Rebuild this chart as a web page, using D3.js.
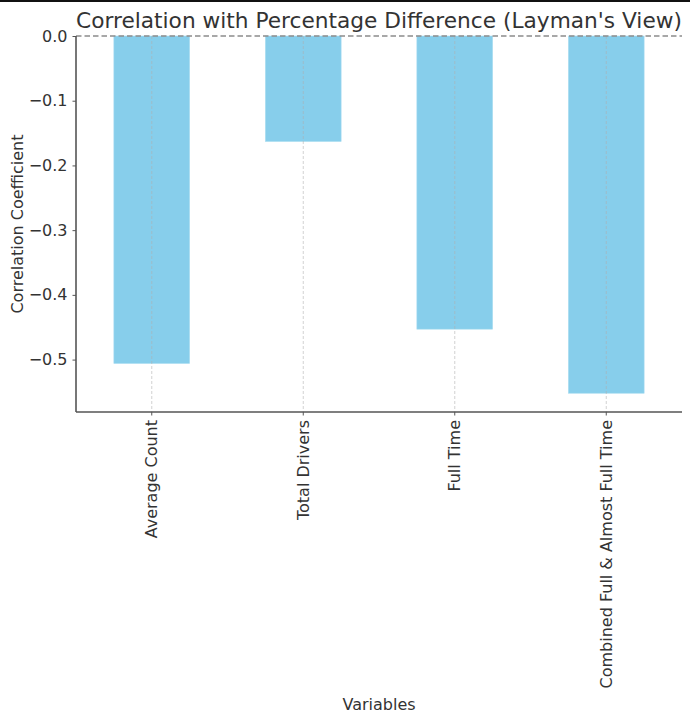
<!DOCTYPE html>
<html><head><meta charset="utf-8">
<script src="https://cdn.jsdelivr.net/npm/d3@7"></script>
<style>body{margin:0;background:#fff;} text{font-family:"DejaVu Sans",sans-serif;}</style>
</head><body>
<script>
const categories = ["Average Count", "Total Drivers", "Full Time", "Combined Full & Almost Full Time"];
const values = [-0.506, -0.163, -0.453, -0.552];
const yTicks = [0.0, -0.1, -0.2, -0.3, -0.4, -0.5];
const title = "Correlation with Percentage Difference (Layman's View)";
const xLabel = "Variables";
const yLabel = "Correlation Coefficient";

const W = 690, H = 721;
const m = {left: 76, right: 8, top: 36, bottom: 309};
const svg = d3.select("body").append("svg").attr("width", W).attr("height", H);
svg.append("rect").attr("x",0).attr("y",0).attr("width",W).attr("height",2).attr("fill","#111");

const x = d3.scaleBand().domain(categories).range([m.left, W - m.right]).paddingInner(0.5).paddingOuter(0.25);
const y = d3.scaleLinear().domain([0, -0.581]).range([m.top, H - m.bottom]);

const g = svg.append("g");
g.selectAll("rect.bar").data(values).join("rect")
  .attr("x", (d,i)=>x(categories[i])).attr("width", x.bandwidth())
  .attr("y", y(0)).attr("height", d=>y(d)-y(0))
  .attr("fill", "#87ceeb").attr("stroke","#a8dcf0").attr("stroke-width",0.6);

g.selectAll("line.grid").data(categories).join("line")
  .attr("x1", d=>x(d)+x.bandwidth()/2).attr("x2", d=>x(d)+x.bandwidth()/2)
  .attr("y1", m.top).attr("y2", H - m.bottom)
  .attr("stroke", "#b0b0b0").attr("stroke-width", 0.8).attr("stroke-dasharray","3,2").attr("opacity",0.7);

g.append("line").attr("x1", m.left).attr("x2", W - m.right).attr("y1", y(0)).attr("y2", y(0))
  .attr("stroke", "#8c8c8c").attr("stroke-width", 1.3).attr("stroke-dasharray","5.5,3");

const yAxis = d3.axisLeft(y).tickValues(yTicks).tickSize(3.5).tickPadding(5)
  .tickFormat(d => (d === 0 ? "0.0" : d3.format(".1f")(d).replace("-", "\u2212")));
const ya = svg.append("g").attr("transform", `translate(${m.left},0)`).call(yAxis);
ya.attr("font-size", null).attr("font-family", null);
ya.select(".domain").attr("stroke","#555").attr("stroke-width",1.6).attr("d", `M0,${m.top}V${H-m.bottom}`);
ya.selectAll(".tick line").attr("stroke","#555");
ya.selectAll(".tick text").attr("fill","#333").style("font-size","16px");

const xAxis = d3.axisBottom(x).tickSize(3.5).tickPadding(4);
const xa = svg.append("g").attr("transform", `translate(0,${H-m.bottom})`).call(xAxis);
xa.attr("font-size", null).attr("font-family", null);
xa.select(".domain").attr("stroke","#555").attr("stroke-width",1.6).attr("d", `M${m.left},0H${W-m.right}`);
xa.selectAll(".tick line").attr("stroke","#555");
xa.selectAll(".tick text").attr("fill","#333").style("font-size","16px")
  .attr("transform","rotate(-90)").attr("text-anchor","end")
  .attr("x",-8).attr("y",0).attr("dy","0.35em");

svg.append("text").attr("x", (m.left + W - m.right)/2).attr("y", 28).attr("text-anchor","middle")
  .attr("fill","#333").style("font-size","21.7px").text(title);
svg.append("text").attr("x", (m.left + W - m.right)/2).attr("y", 710).attr("text-anchor","middle")
  .attr("fill","#333").style("font-size","16px").text(xLabel);
svg.append("text").attr("transform", `translate(23,${(m.top + H - m.bottom)/2}) rotate(-90)`).attr("text-anchor","middle")
  .attr("fill","#333").style("font-size","16px").text(yLabel);
</script>
</body></html>
